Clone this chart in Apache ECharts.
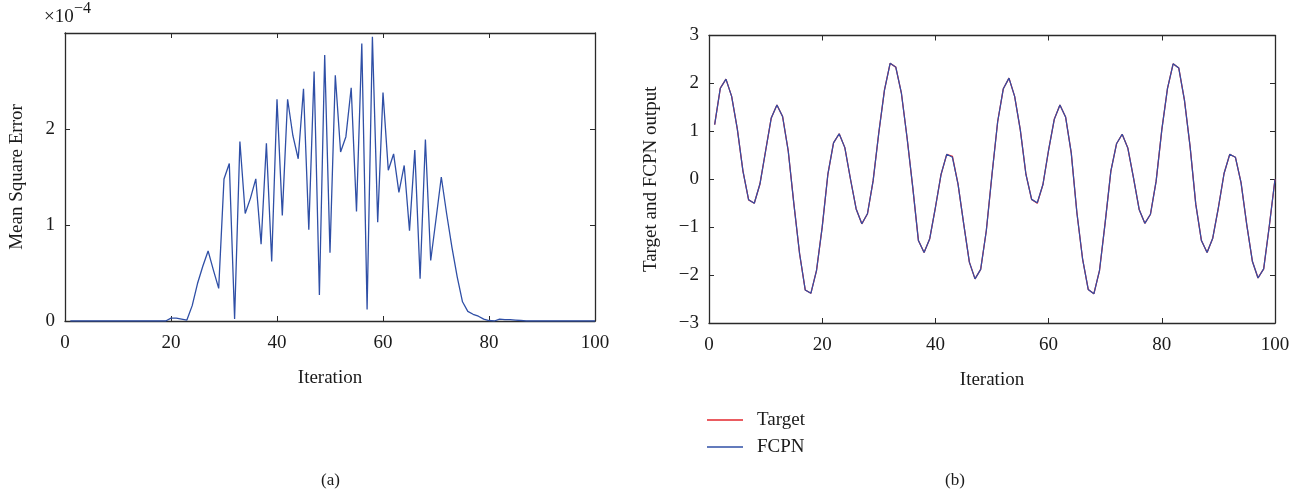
<!DOCTYPE html>
<html><head><meta charset="utf-8">
<script src="https://cdn.jsdelivr.net/npm/echarts@6/dist/echarts.min.js"></script>
<style>html,body{margin:0;padding:0;background:#fff}#c{width:1308px;height:500px}</style>
</head><body><div id="c"></div>
<script>
// ---- data ----
// Mean square error in units of 1e-4, iterations 1..100
const mse = [
  0,0,0,0,0,0,0,0,0,0, 0,0,0,0,0,0,0,0,0,0.03,
  0.03,0.02,0.01,0.16,0.39,0.57,0.73,0.53,0.34,1.48,
  1.64,0.02,1.87,1.12,1.28,1.48,0.80,1.85,0.62,2.31,
  1.10,2.31,1.93,1.69,2.42,0.95,2.60,0.27,2.77,0.71,
  2.56,1.76,1.92,2.43,1.14,2.89,0.12,2.96,1.03,2.38,
  1.57,1.74,1.34,1.62,0.94,1.78,0.44,1.89,0.63,1.06,
  1.50,1.12,0.77,0.46,0.20,0.10,0.07,0.05,0.02,0.005,
  0,0.02,0.015,0.015,0.01,0.005,0,0,0,0,
  0,0,0,0,0,0,0,0,0,0
];
// Target signal, iterations 1..100
const target = [
  1.14,1.90,2.09,1.73,1.05,0.17,-0.43,-0.50,-0.10,0.59,
  1.28,1.55,1.31,0.59,-0.52,-1.55,-2.31,-2.38,-1.90,-1.00,
  0.10,0.76,0.95,0.66,0.00,-0.62,-0.93,-0.72,-0.03,0.97,
  1.86,2.42,2.34,1.79,0.86,-0.17,-1.28,-1.53,-1.24,-0.59,
  0.10,0.52,0.48,-0.10,-0.93,-1.73,-2.08,-1.88,-1.07,0.10,
  1.20,1.89,2.11,1.73,1.03,0.10,-0.42,-0.50,-0.11,0.61,
  1.25,1.55,1.30,0.55,-0.70,-1.66,-2.30,-2.39,-1.90,-0.90,
  0.17,0.74,0.94,0.65,0.03,-0.63,-0.92,-0.73,-0.04,1.03,
  1.89,2.41,2.32,1.65,0.68,-0.52,-1.28,-1.53,-1.23,-0.59,
  0.12,0.52,0.46,-0.07,-0.94,-1.71,-2.06,-1.87,-0.97,0.00
];
// FCPN output, iterations 1..100
const fcpn = [
  1.14,1.90,2.09,1.73,1.05,0.17,-0.43,-0.50,-0.10,0.59,
  1.28,1.55,1.31,0.59,-0.52,-1.55,-2.31,-2.38,-1.90,-1.00,
  0.10,0.76,0.95,0.66,0.00,-0.62,-0.93,-0.72,-0.03,0.97,
  1.86,2.42,2.34,1.79,0.86,-0.17,-1.28,-1.53,-1.24,-0.59,
  0.10,0.52,0.46,-0.10,-0.93,-1.73,-2.08,-1.88,-1.07,0.10,
  1.20,1.89,2.11,1.73,1.03,0.10,-0.42,-0.49,-0.11,0.61,
  1.25,1.55,1.30,0.55,-0.70,-1.66,-2.30,-2.39,-1.90,-0.90,
  0.17,0.74,0.94,0.65,0.03,-0.63,-0.92,-0.73,-0.04,1.03,
  1.89,2.41,2.32,1.65,0.68,-0.52,-1.28,-1.53,-1.23,-0.59,
  0.12,0.52,0.46,-0.07,-0.94,-1.71,-2.06,-1.87,-0.97,0.00
];
const xTicks = [0, 20, 40, 60, 80, 100];
const mseTicks = [0, 1, 2];
const outTicks = [-3, -2, -1, 0, 1, 2, 3];

// ---- styling ----
const FONT = '"Liberation Serif", "DejaVu Serif", serif';
const TXT = '#1a1a1a';
const AX = '#2a2a2a';
const BLUE = '#2f4fa6';
const RED = '#e3262d';
const FS = 19;

function pairs(vals) { return vals.map((v, i) => [i + 1, v]); }
function minus(v) { return String(v).replace('-', '\u2212'); }

function xAxisPair(gi) {
  const base = {
    gridIndex: gi, type: 'value', min: xTicks[0], max: xTicks[xTicks.length - 1], interval: 20,
    axisLine: {show: true, onZero: false, lineStyle: {color: AX, width: 1.3}},
    axisTick: {show: true, inside: true, length: 5, lineStyle: {color: AX, width: 1}},
    splitLine: {show: false}
  };
  return [
    Object.assign({}, base, {
      position: 'bottom',
      axisLabel: {show: true, margin: 13, color: TXT, fontFamily: FONT, fontSize: FS},
      name: 'Iteration', nameLocation: 'middle', nameGap: 48,
      nameTextStyle: {color: TXT, fontFamily: FONT, fontSize: FS}
    }),
    Object.assign({}, base, {position: 'top', axisLabel: {show: false}})
  ];
}
function yAxisPair(gi, min, max, name, gap, showMax) {
  const base = {
    gridIndex: gi, type: 'value', min: min, max: max, interval: 1,
    axisLine: {show: true, onZero: false, lineStyle: {color: AX, width: 1.3}},
    axisTick: {show: true, inside: true, length: 5, lineStyle: {color: AX, width: 1}},
    splitLine: {show: false}
  };
  return [
    Object.assign({}, base, {
      position: 'left',
      axisLabel: {show: true, margin: 10, color: TXT, fontFamily: FONT, fontSize: FS,
        showMaxLabel: showMax, formatter: v => minus(v)},
      name: name, nameLocation: 'middle', nameGap: gap,
      nameTextStyle: {color: TXT, fontFamily: FONT, fontSize: FS}
    }),
    Object.assign({}, base, {position: 'right', axisLabel: {show: false}})
  ];
}

const chart = echarts.init(document.getElementById('c'), null, {renderer: 'canvas'});
chart.setOption({
  backgroundColor: '#fff',
  animation: false,
  grid: [
    {left: 65, top: 33, width: 530, height: 288, containLabel: false},
    {left: 709, top: 35.5, width: 566, height: 287.5, containLabel: false}
  ],
  xAxis: [...xAxisPair(0), ...xAxisPair(1)],
  yAxis: [...yAxisPair(0, mseTicks[0], 3, 'Mean Square Error', 38, false),
          ...yAxisPair(1, outTicks[0], outTicks[outTicks.length - 1], 'Target and FCPN output', 48, true)],
  legend: {
    orient: 'vertical', left: 707, top: 410, padding: 0, icon: 'rect', itemWidth: 36, itemHeight: 1.4, itemGap: 7,
    data: ['Target', 'FCPN'],
    textStyle: {color: TXT, fontFamily: FONT, fontSize: FS, lineHeight: 20, padding: [0, 0, 0, 9]}
  },
  graphic: [
    {type: 'text', left: 44, top: 8, style: {text: '\u00d710', fill: TXT, font: FS + 'px ' + FONT}},
    {type: 'text', left: 74, top: 1, style: {text: '\u22124', fill: TXT, font: '16px ' + FONT}},
    {type: 'text', left: 321, top: 472, style: {text: '(a)', fill: TXT, font: '17px ' + FONT}},
    {type: 'text', left: 945, top: 472, style: {text: '(b)', fill: TXT, font: '17px ' + FONT}}
  ],
  series: [
    {type: 'line', name: 'MSE', xAxisIndex: 0, yAxisIndex: 0, data: pairs(mse),
     symbol: 'none', lineStyle: {color: BLUE, width: 1.3}, itemStyle: {color: BLUE}},
    {type: 'line', name: 'Target', xAxisIndex: 2, yAxisIndex: 2, data: pairs(target),
     symbol: 'none', lineStyle: {color: RED, width: 1.3}, itemStyle: {color: RED}},
    {type: 'line', name: 'FCPN', xAxisIndex: 2, yAxisIndex: 2, data: pairs(fcpn),
     symbol: 'none', lineStyle: {color: BLUE, width: 1.2}, itemStyle: {color: BLUE}}
  ]
});
</script></body></html>
